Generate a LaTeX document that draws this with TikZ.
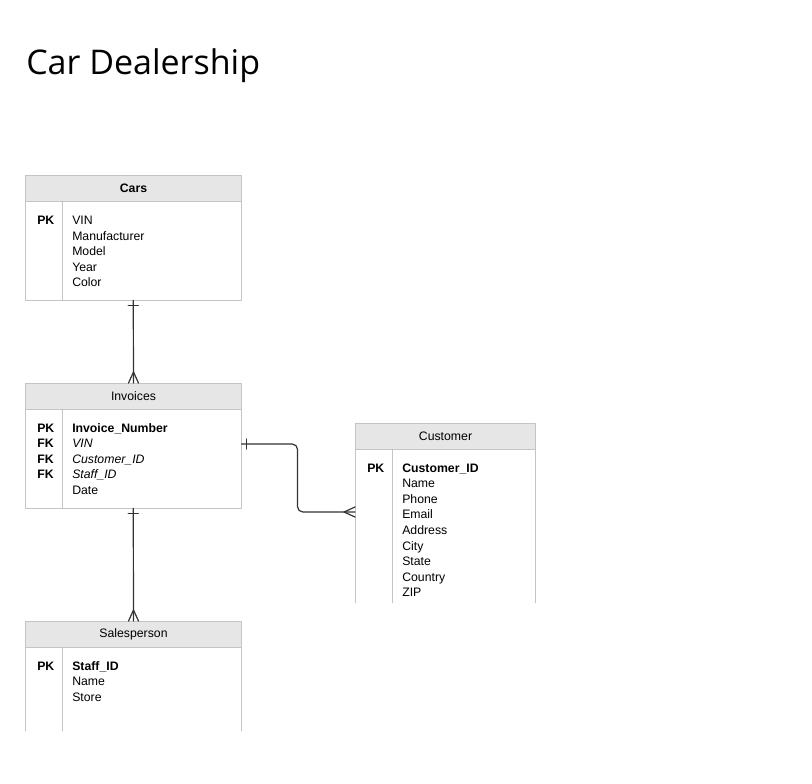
\documentclass[tikz,border=0pt]{standalone}
\usepackage{fontspec}
\setmainfont{Liberation Sans}
\newfontfamily\titlefont{Open Sans}
\usetikzlibrary{calc}

\definecolor{boxline}{HTML}{C4C4C4}
\definecolor{headfill}{HTML}{E6E6E6}
\definecolor{linkline}{HTML}{333333}

\tikzset{
  tabhead/.style={draw=boxline, fill=headfill, line width=0.75pt, inner sep=0pt,
    anchor=north west, minimum height=19.5pt, font=\fontsize{9.2}{11}\selectfont},
  tabbody/.style={inner sep=0pt, anchor=north west},
  field/.style={inner sep=0pt, anchor=base west, font=\fontsize{9.2}{11}\selectfont},
  keyfield/.style={field, font=\fontsize{9.2}{11}\selectfont\bfseries},
  link/.style={draw=linkline, line width=0.9pt},
}

\begin{document}
\begin{tikzpicture}[x=0.75pt, y=-0.75pt, line cap=round, line join=round]
\useasboundingbox (0,0) rectangle (812,783);

% --- title ---
\node[anchor=base west, inner sep=0pt, font=\titlefont\fontsize{25.5}{30}\selectfont] (title) at (26,74) {Car Dealership};

% --- Cars ---
\node[tabhead, minimum width=162pt] (cars-head) at (25,175) {\textbf{Cars}};
\node[tabbody, minimum width=162pt, minimum height=74.25pt] (cars-body) at (25,201) {};
\draw[boxline, line width=0.75pt] (cars-body.north west) rectangle (cars-body.south east);
\draw[boxline, line width=0.75pt] ($(cars-body.north west)+(37,0)$) -- ($(cars-body.south west)+(37,0)$);
\node[keyfield] (cars-pk) at (37,224.5) {PK};
\foreach \t [count=\i from 0] in {VIN,Manufacturer,Model,Year,Color}
  \node[field] (cars-f\i) at (72,224.5+15.6*\i) {\t};

% --- Invoices ---
\node[tabhead, minimum width=162pt] (inv-head) at (25,383) {Invoices};
\node[tabbody, minimum width=162pt, minimum height=74.25pt] (inv-body) at (25,409) {};
\draw[boxline, line width=0.75pt] (inv-body.north west) rectangle (inv-body.south east);
\draw[boxline, line width=0.75pt] ($(inv-body.north west)+(37,0)$) -- ($(inv-body.south west)+(37,0)$);
\foreach \t [count=\i from 0] in {PK,FK,FK,FK}
  \node[keyfield] (inv-k\i) at (37,432+15.6*\i) {\t};
\foreach \t [count=\i from 0] in {\textbf{Invoice\_Number},\textit{VIN},\textit{Customer\_ID},\textit{Staff\_ID},Date}
  \node[field] (inv-f\i) at (72,432+15.6*\i) {\t};

% --- Customer (cut off at the bottom) ---
\node[tabhead, minimum width=135pt] (cust-head) at (355,423) {Customer};
\node[tabbody, minimum width=135pt, minimum height=114.75pt] (cust-body) at (355,449) {};
\draw[boxline, line width=0.75pt] (cust-body.south west) -- (cust-body.north west)
  (cust-body.north east) -- (cust-body.south east);
\draw[boxline, line width=0.75pt] ($(cust-body.north west)+(37,0)$) -- ($(cust-body.south west)+(37,0)$);
\node[keyfield] (cust-pk) at (367,472) {PK};
\foreach \t [count=\i from 0] in {\textbf{Customer\_ID},Name,Phone,Email,Address,City,State,Country,ZIP}
  \node[field] (cust-f\i) at (402,472+15.6*\i) {\t};

% --- Salesperson (cut off at the bottom) ---
\node[tabhead, minimum width=162pt] (sp-head) at (25,621) {Salesperson};
\node[tabbody, minimum width=162pt, minimum height=62.25pt] (sp-body) at (25,647) {};
\draw[boxline, line width=0.75pt] (sp-body.south west) -- (sp-body.north west)
  (sp-body.north east) -- (sp-body.south east);
\draw[boxline, line width=0.75pt] ($(sp-body.north west)+(37,0)$) -- ($(sp-body.south west)+(37,0)$);
\node[keyfield] (sp-pk) at (37,670) {PK};
\foreach \t [count=\i from 0] in {\textbf{Staff\_ID},Name,Store}
  \node[field] (sp-f\i) at (72,670+15.6*\i) {\t};

% --- Cars 1 -- n Invoices ---
\draw[link] (cars-body.south) -- (inv-head.north);
\draw[link] ($(cars-body.south)+(-5,5)$) -- ($(cars-body.south)+(5,5)$);
\draw[link] ($(inv-head.north)+(-5,0)$) -- ($(inv-head.north)+(0,-11)$) -- ($(inv-head.north)+(5,0)$);

% --- Invoices 1 -- n Salesperson ---
\draw[link] (inv-body.south) -- (sp-head.north);
\draw[link] ($(inv-body.south)+(-5,5)$) -- ($(inv-body.south)+(5,5)$);
\draw[link] ($(sp-head.north)+(-5,0)$) -- ($(sp-head.north)+(0,-11)$) -- ($(sp-head.north)+(5,0)$);

% --- Invoices 1 -- n Customer ---
\coordinate (inv-link) at ($(inv-body.north east)+(0,35)$);
\coordinate (cust-link) at ($(cust-body.north west)+(0,63)$);
\draw[link, rounded corners=4pt] (inv-link) -- ++(56,0) |- (cust-link);
\draw[link] ($(inv-link)+(5,-5)$) -- ($(inv-link)+(5,5)$);
\draw[link] ($(cust-link)+(0,-5)$) -- ($(cust-link)+(-11,0)$) -- ($(cust-link)+(0,5)$);
\end{tikzpicture}
\end{document}
